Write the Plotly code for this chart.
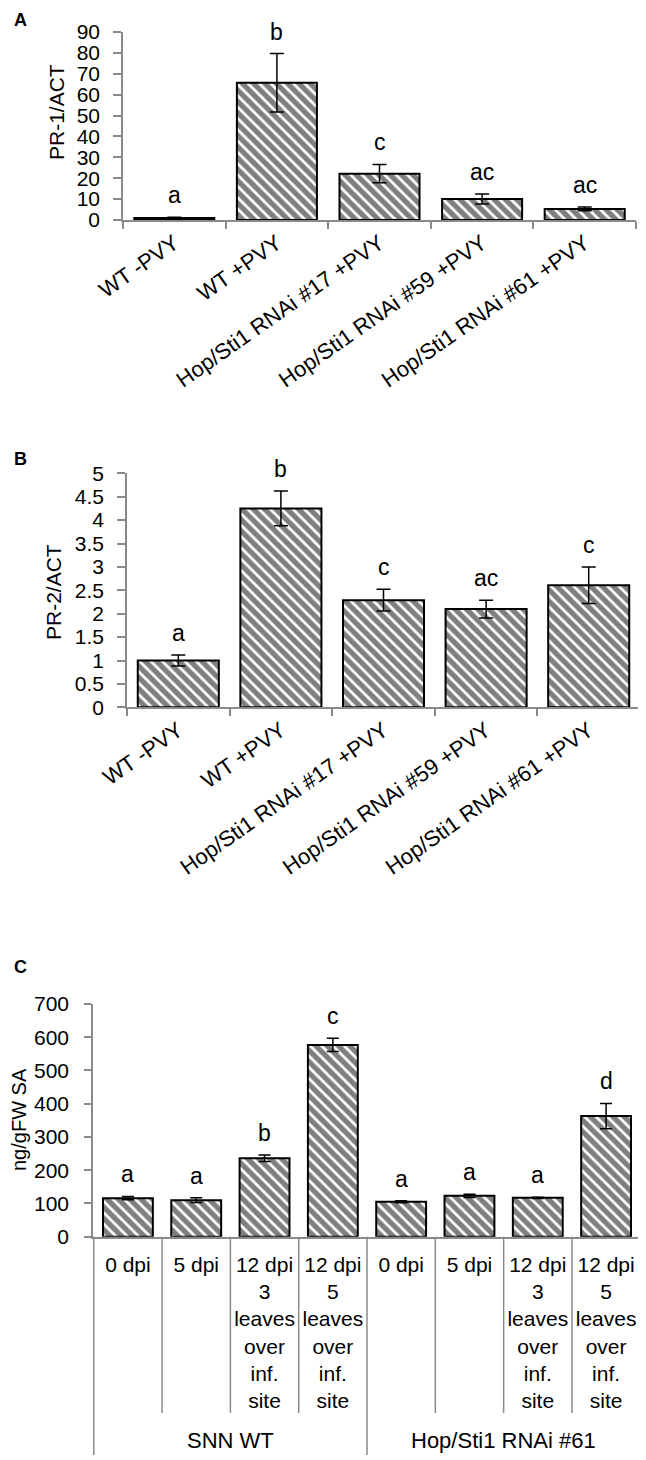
import plotly.graph_objects as go

# the page body adds an 8px offset, so the figure is sized to fit inside the window
OFF = 8
W, H = 646 - OFF, 1460 - OFF
FONT = "Arial, Liberation Sans, sans-serif"
GRAY = "#8a8a8a"

# ---------------- data ----------------
# Panel A: PR-1/ACT
a_categories = ["WT -PVY", "WT +PVY", "Hop/Sti1 RNAi #17 +PVY",
                "Hop/Sti1 RNAi #59 +PVY", "Hop/Sti1 RNAi #61 +PVY"]
a_values = [1.0, 65.7, 22.2, 10.0, 5.3]
a_errors = [0.3, 14.0, 4.4, 2.4, 0.9]
a_letters = ["a", "b", "c", "ac", "ac"]

# Panel B: PR-2/ACT
b_categories = a_categories
b_values = [1.0, 4.25, 2.29, 2.10, 2.61]
b_errors = [0.12, 0.37, 0.23, 0.19, 0.39]
b_letters = ["a", "b", "c", "ac", "c"]

# Panel C: ng/gFW SA
c_groups = ["SNN WT", "SNN WT", "SNN WT", "SNN WT",
            "Hop/Sti1 RNAi #61", "Hop/Sti1 RNAi #61",
            "Hop/Sti1 RNAi #61", "Hop/Sti1 RNAi #61"]
c_times = ["0 dpi", "5 dpi",
           "12 dpi<br>3<br>leaves<br>over<br>inf.<br>site",
           "12 dpi<br>5<br>leaves<br>over<br>inf.<br>site",
           "0 dpi", "5 dpi",
           "12 dpi<br>3<br>leaves<br>over<br>inf.<br>site",
           "12 dpi<br>5<br>leaves<br>over<br>inf.<br>site"]
c_values = [116, 110, 236, 577, 105, 123, 117, 363]
c_errors = [5, 7, 10, 20, 3, 5, 2, 38]
c_letters = ["a", "a", "b", "c", "a", "a", "a", "d"]


def px(x):
    return (x - OFF) / W


def py(y):
    return 1 - (y - OFF) / H


pattern = dict(shape="\\", size=8, solidity=0.66, fgcolor="black", bgcolor="white")

fig = go.Figure()

c_keys = [f"{g}|{i}" for i, g in enumerate(c_groups)]

panels = [
    ("x", "y", a_categories, a_values, a_errors, a_letters, 0.78, 7),
    ("x2", "y2", b_categories, b_values, b_errors, b_letters, 0.79, 7),
    ("x3", "y3", c_keys, c_values, c_errors, c_letters, 0.73, 6),
]

annotations = []
for xa, ya, cats, vals, errs, letters, bw, capw in panels:
    fig.add_trace(go.Bar(
        x=cats, y=vals, xaxis=xa, yaxis=ya, width=bw,
        marker=dict(color="white", pattern=pattern,
                    line=dict(color="black", width=2)),
        error_y=dict(type="data", array=errs, visible=True, color="black",
                     thickness=1.5, width=capw),
        showlegend=False, hoverinfo="skip",
    ))
    for c, v, e, L in zip(cats, vals, errs, letters):
        annotations.append(dict(
            x=c, y=v + e, xref=xa, yref=ya, text=L, showarrow=False,
            xanchor="center", yanchor="bottom", yshift=7,
            font=dict(family=FONT, size=23, color="black")))

# axis titles
for txt, xx, yy, fs in [("PR-1/ACT", 56, 112, 21), ("PR-2/ACT", 53, 592, 21),
                        ("ng/gFW SA", 19, 1120, 20)]:
    annotations.append(dict(x=px(xx), y=py(yy), xref="paper", yref="paper", text=txt,
                            textangle=-90, showarrow=False, xanchor="center", yanchor="middle",
                            borderpad=0,
                            font=dict(family=FONT, size=fs, color="black")))
# panel letters
for lab, yy in [("A", 20), ("B", 459), ("C", 967)]:
    annotations.append(dict(x=px(20), y=py(yy), xref="paper", yref="paper",
                            text=f"<b>{lab}</b>", showarrow=False,
                            xanchor="center", yanchor="middle",
                            font=dict(family=FONT, size=18, color="black")))

# group labels for panel C (centered on each group of categories)
group_names = []
for g in c_groups:
    if g not in group_names:
        group_names.append(g)
for g in group_names:
    idx = [i for i, gg in enumerate(c_groups) if gg == g]
    annotations.append(dict(x=(idx[0] + idx[-1]) / 2, y=py(1440), xref="x3", yref="paper",
                            text=g, showarrow=False, xanchor="center", yanchor="middle",
                            font=dict(family=FONT, size=22, color="black")))

# divider lines for panel C
shapes = []
n = len(c_groups)
for i in range(n + 1):
    xb = i - 0.5
    is_group = (i == 0 or i == n or c_groups[i] != c_groups[i - 1])
    shapes.append(dict(type="line", xref="x3", yref="paper",
                       x0=xb, x1=xb, y0=py(1236.7), y1=py(1455 if is_group else 1413),
                       line=dict(color=GRAY, width=1.5)))

line_style = dict(showline=True, linecolor=GRAY, linewidth=1.5, showgrid=False,
                  zeroline=False, tickcolor=GRAY, tickwidth=1.5, automargin=False)
ytick_font = dict(family=FONT, size=21, color="black")
xrot_font = dict(family=FONT, size=22, color="black")

fig.update_layout(
    width=W, height=H, autosize=False,
    margin=dict(l=0, r=0, t=0, b=0, autoexpand=False),
    paper_bgcolor="white", plot_bgcolor="white",
    xaxis=dict(domain=[px(123), px(636)], anchor="y", ticks="outside", tickson="boundaries",
               ticklen=7, tickangle=-35, tickfont=xrot_font, **line_style),
    yaxis=dict(domain=[py(220), py(32)], anchor="x", range=[0, 90], dtick=10,
               ticks="outside", ticklen=8, ticklabelstandoff=9, tickfont=ytick_font, **line_style),
    xaxis2=dict(domain=[px(127), px(640)], anchor="y2", ticks="outside", tickson="boundaries",
                ticklen=7, tickangle=-35, tickfont=xrot_font, **line_style),
    yaxis2=dict(domain=[py(707.3), py(473.3)], anchor="x2", range=[0, 5], dtick=0.5,
                ticks="outside", ticklen=8, ticklabelstandoff=9, tickfont=ytick_font, **line_style),
    xaxis3=dict(domain=[px(93), px(641)], anchor="y3", ticks="",
                tickvals=c_keys, ticktext=c_times, ticklabelstandoff=8,
                tickfont=dict(family=FONT, size=21, color="black"), **line_style),
    yaxis3=dict(domain=[py(1236.7), py(1004)], anchor="x3", range=[0, 700], dtick=100,
                ticks="outside", ticklen=7, ticklabelstandoff=11, tickfont=ytick_font, **line_style),
    annotations=annotations,
    shapes=shapes,
)

fig.write_html("out.html")
